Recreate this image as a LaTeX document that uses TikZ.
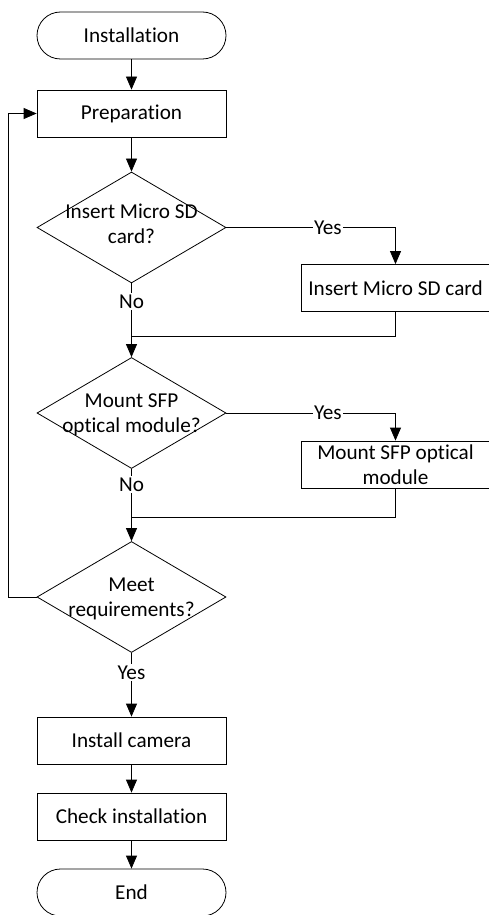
\documentclass[tikz,border=0pt]{standalone}
\usepackage{fontspec}
\setmainfont{Carlito}[Ligatures=NoCommon]
\usetikzlibrary{arrows.meta,shapes.geometric}
\begin{document}
\begin{tikzpicture}[x=1pt,y=-1pt,
  font=\fontsize{21.2}{25}\selectfont,
  every node/.style={inner sep=0pt},
  every path/.style={line width=0.8pt},
  term/.style={draw, rectangle, rounded corners=23.5pt, minimum width=189pt, minimum height=47pt},
  box/.style={draw, rectangle, minimum width=189pt, minimum height=47pt, align=center},
  dia/.style={draw, diamond, minimum width=189pt, minimum height=111pt},
  txt/.style={align=center},
  lab/.style={fill=white, inner sep=1.5pt},
  arr/.style={-{Triangle[width=11pt,length=13pt]}}]
\useasboundingbox (0,0) rectangle (488,915);

\node[term] (inst) at (131.5,35.5) {Installation};
\node[box] (prep) at (131.5,113.5) {Preparation};
\node[dia] (d1) at (131.5,227.5) {};
\node[txt] (d1t) at (131.5,224) {Insert Micro SD\\card?};
\node[box] (sd) at (395.5,288) {Insert Micro SD card};
\node[dia] (d2) at (131.5,413) {};
\node[txt] (d2t) at (131.5,415) {Mount SFP\\optical module?};
\node[box] (sfp) at (395.5,464.5) {Mount SFP optical\\module};
\node[dia] (d3) at (131.5,597) {};
\node[txt] (d3t) at (131.5,598.5) {Meet\\requirements?};
\node[box] (cam) at (131.5,740.5) {Install camera};
\node[box] (chk) at (131.5,816.5) {Check installation};
\node[term] (end) at (131.5,892.5) {End};

\coordinate (j1) at (131.5,336);
\coordinate (j2) at (131.5,517);
\coordinate (fb) at (8.5,597);

\draw[arr] (inst) -- (prep);
\draw[arr] (prep) -- (d1);
\draw[arr] (d1.east) -| node[lab, pos=0.3] {Yes} (sd.north);
\draw (d1.south) -- node[lab, pos=0.35] {No} (j1);
\draw (sd.south) |- (j1);
\draw[arr] (j1) -- (d2.north);
\draw[arr] (d2.east) -| node[lab, pos=0.3] {Yes} (sfp.north);
\draw (d2.south) -- node[lab, pos=0.33] {No} (j2);
\draw (sfp.south) |- (j2);
\draw[arr] (j2) -- (d3.north);
\draw[arr] (d3.west) -- (fb) |- (prep.west);
\draw[arr] (d3.south) -- node[lab, pos=0.31] {Yes} (cam.north);
\draw[arr] (cam) -- (chk);
\draw[arr] (chk) -- (end);
\end{tikzpicture}
\end{document}
